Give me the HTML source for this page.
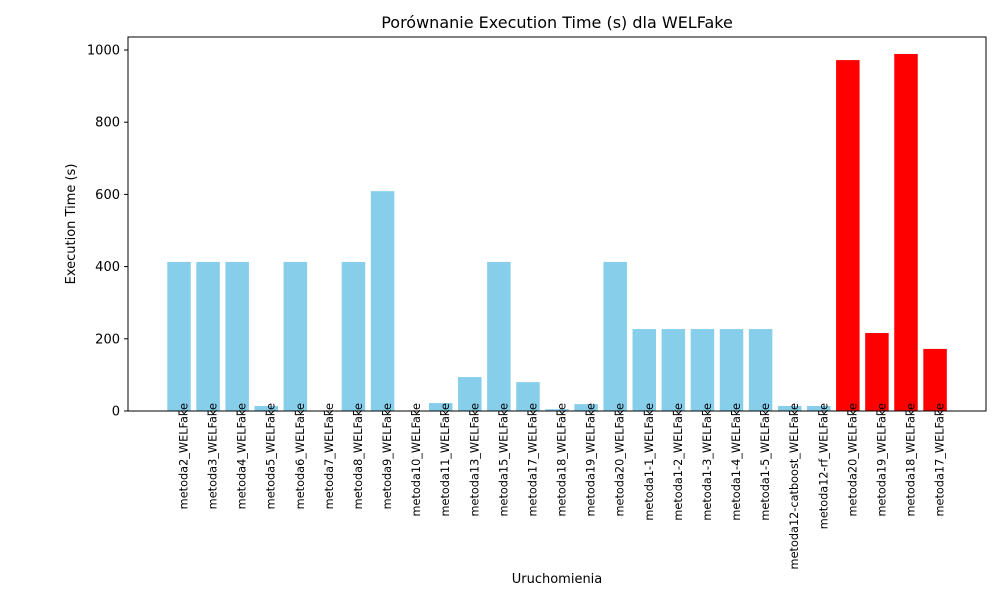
<!DOCTYPE html>
<html><head><meta charset="utf-8"><style>
body{margin:0;background:#fff;}
svg{display:block;font-family:"DejaVu Sans","Liberation Sans",sans-serif;}
</style></head><body>
<svg id="chart" width="1000" height="600">
<rect width="1000" height="600" fill="#fff"/>
<text x="557" y="28" font-size="16" text-anchor="middle">Porównanie Execution Time (s) dla WELFake</text>
<g id="bars"></g>
<g id="yticks"></g>
<g id="xticks"></g>
<rect x="128" y="37" width="858" height="374" fill="none" stroke="#000" stroke-width="1"/>
<text x="557" y="583" font-size="13" text-anchor="middle">Uruchomienia</text>
<text transform="translate(75,224) rotate(-90)" font-size="13" text-anchor="middle">Execution Time (s)</text>
</svg>
<script>
const categories=["metoda2_WELFake","metoda3_WELFake","metoda4_WELFake","metoda5_WELFake","metoda6_WELFake","metoda7_WELFake","metoda8_WELFake","metoda9_WELFake","metoda10_WELFake","metoda11_WELFake","metoda13_WELFake","metoda15_WELFake","metoda17_WELFake","metoda18_WELFake","metoda19_WELFake","metoda20_WELFake","metoda1-1_WELFake","metoda1-2_WELFake","metoda1-3_WELFake","metoda1-4_WELFake","metoda1-5_WELFake","metoda12-catboost_WELFake","metoda12-rf_WELFake","metoda20_WELFake","metoda19_WELFake","metoda18_WELFake","metoda17_WELFake"];
const values=[413,413,413,14,413,1,413,609,1,22,94,413,80,5,19,413,227,227,227,227,227,14,14,972,216,989,172];
const highlighted=[0,0,0,0,0,0,0,0,0,0,0,0,0,0,0,0,0,0,0,0,0,0,0,1,1,1,1];
const yTicks=[0,200,400,600,800,1000];
const NS="http://www.w3.org/2000/svg";
const x0=179,step=29.08,bw=23.5;
function xs(i){return x0+i*step;}
function ys(v){return 411-v*0.361;}
const bars=document.getElementById('bars'),yt=document.getElementById('yticks'),xt=document.getElementById('xticks');
categories.forEach((c,i)=>{
  const r=document.createElementNS(NS,'rect');
  r.setAttribute('x',xs(i)-bw/2);r.setAttribute('y',ys(values[i]));
  r.setAttribute('width',bw);r.setAttribute('height',411-ys(values[i]));
  r.setAttribute('fill',highlighted[i]?'#ff0000':'#87ceeb');
  
  
  bars.appendChild(r);
  const t=document.createElementNS(NS,'line');
  t.setAttribute('x1',xs(i));t.setAttribute('x2',xs(i));t.setAttribute('y1',411);t.setAttribute('y2',415);t.setAttribute('stroke','#000');
  xt.appendChild(t);
  const l=document.createElementNS(NS,'text');
  l.setAttribute('transform','translate('+(xs(i)+8.5)+',403) rotate(-90)');
  l.setAttribute('text-anchor','end');l.setAttribute('font-size','11.3');
  l.textContent=c;
  
  
  xt.appendChild(l);
});
yTicks.forEach(v=>{
  const t=document.createElementNS(NS,'line');
  t.setAttribute('x1',124);t.setAttribute('x2',128);t.setAttribute('y1',ys(v));t.setAttribute('y2',ys(v));t.setAttribute('stroke','#000');
  yt.appendChild(t);
  const l=document.createElementNS(NS,'text');
  l.setAttribute('x',120);l.setAttribute('y',ys(v)+4.5);l.setAttribute('text-anchor','end');l.setAttribute('font-size','13');
  l.textContent=v;
  
  
  yt.appendChild(l);
});
</script>
</body></html>
